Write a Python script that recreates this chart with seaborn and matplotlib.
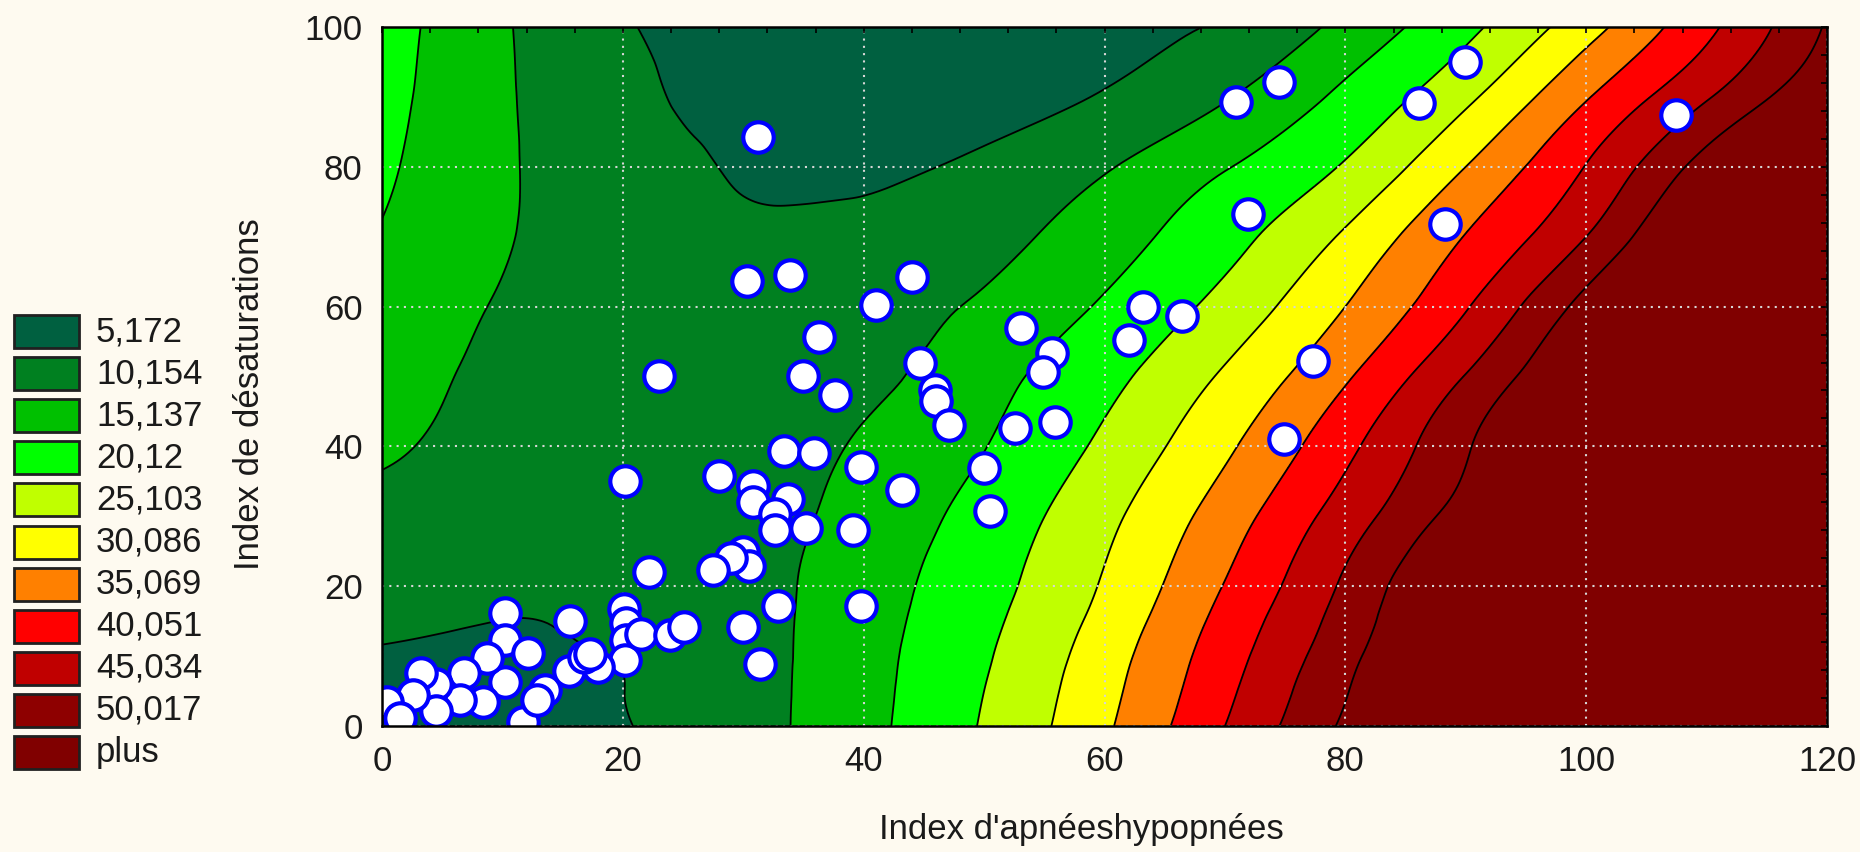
import numpy as np
import matplotlib
matplotlib.use("Agg")
import matplotlib.pyplot as plt
import matplotlib.tri as mtri
from matplotlib.patches import Rectangle
from matplotlib.ticker import MultipleLocator
import seaborn as sns
import pandas as pd

sns.set_theme(style="white")
plt.rcParams['font.family'] = ['Liberation Sans', 'DejaVu Sans']

# ---- data -------------------------------------------------------------
# surface (z at grid nodes)
x_nodes = [0, 5, 10, 15, 20, 25, 30, 35, 40, 50, 60, 70, 80, 90, 100, 110, 120]
y_nodes = [0, 5, 10, 15, 20, 30, 40, 50, 60, 70, 80, 90, 100]
z_y0 = [3.0, 3.5, 4.0, 4.5, 5.0, 6.5, 8.5, 10.68, 13.61, 20.55, 29.28, 40.05, 50.85, 61.2, 71.6, 82.0, 92.4]
z_y5 = [3.93, 4.11, 4.39, 4.75, 5.14, 6.78, 8.61, 10.61, 13.47, 20.12, 28.58, 38.93, 49.7, 60.0, 70.5, 81.0, 91.5]
z_y10 = [4.85, 4.72, 4.78, 4.9, 5.4, 7.2, 8.8, 10.54, 13.34, 19.6, 27.8, 37.9, 48.5, 59.6, 70.6, 81.6, 92.6]
z_y15 = [5.85, 5.43, 5.15, 5.35, 6.4, 7.7, 9.0, 10.44, 13.04, 19.02, 26.69, 36.7, 47.15, 58.5, 69.5, 80.5, 91.5]
z_y20 = [6.87, 6.17, 5.7, 5.9, 6.6, 7.8, 9.0, 10.35, 12.79, 18.38, 25.61, 35.3, 45.88, 57.6, 68.6, 79.6, 90.6]
z_y30 = [8.92, 7.76, 6.6, 6.4, 6.6, 7.3, 8.5, 9.8, 11.87, 16.95, 23.8, 32.53, 42.43, 52.4, 62.0, 71.6, 81.2]
z_y40 = [10.7, 9.4, 7.6, 7.0, 6.9, 7.2, 7.9, 9.0, 10.75, 15.01, 21.15, 29.19, 38.75, 49.49, 59.9, 70.3, 80.7]
z_y50 = [12.09, 10.6, 8.5, 7.7, 7.4, 7.4, 7.7, 8.4, 9.1, 13.37, 18.66, 25.78, 34.45, 45.26, 56.4, 67.4, 78.4]
z_y60 = [13.47, 11.56, 9.75, 8.6, 7.8, 7.2, 7.0, 7.2, 8.0, 10.9, 15.71, 21.76, 30.09, 39.67, 51.8, 63.0, 74.0]
z_y70 = [14.85, 12.67, 10.5, 9.2, 8.0, 6.8, 6.0, 6.0, 6.3, 8.5, 12.9, 18.43, 25.82, 35.27, 45.03, 58.5, 70.0]
z_y80 = [15.85, 13.31, 10.76, 8.99, 7.46, 5.94, 4.7, 4.3, 4.5, 6.0, 9.69, 14.85, 20.59, 30.09, 40.24, 52.3, 64.0]
z_y90 = [16.6, 13.67, 10.74, 8.59, 6.65, 4.75, 4.0, 3.7, 3.6, 3.6, 5.5, 9.75, 16.25, 24.04, 34.66, 44.59, 55.0]
z_y100 = [17.24, 13.96, 10.67, 8.10, 5.66, 4.0, 3.3, 3.0, 2.9, 3.0, 4.0, 5.7, 11.57, 18.87, 28.09, 38.86, 50.5]

levels = [5.172, 10.154, 15.137, 20.12, 25.103, 30.086, 35.069, 40.051, 45.034, 50.017]
legend_labels = ["5,172", "10,154", "15,137", "20,12", "25,103", "30,086",
                 "35,069", "40,051", "45,034", "50,017", "plus"]
band_colors = ["#006040", "#008020", "#00C000", "#00FF00", "#C0FF00", "#FFFF00",
               "#FF8000", "#FF0000", "#C00000", "#8E0000", "#800000"]

# scatter points (Index d'apnées-hypopnées, Index de désaturations)
iah = [31.2, 70.9, 74.5, 86.1, 89.9, 107.5, 71.9, 88.3,
       30.3, 33.9, 44.0, 41.0, 63.2, 66.4, 62.0, 53.1, 55.6, 54.9, 55.9, 52.6, 50.0, 50.5, 77.3, 74.9,
       36.3, 35.0, 37.6, 23.0, 44.7, 45.9, 46.0, 47.1,
       20.2, 33.4, 35.9, 39.8, 43.2, 39.1, 35.2, 28.0, 30.8, 30.8, 33.7, 32.6, 32.6,
       30.0, 30.5, 29.0, 27.5, 39.8, 32.9, 30.0, 31.4,
       22.2, 20.1, 20.3, 20.3, 20.2, 21.5, 23.9, 25.1,
       15.6, 10.2, 10.2, 12.1, 10.2, 8.7, 8.4, 6.8, 6.5, 4.5, 4.5, 3.2, 2.6, 0.4, 1.5,
       11.7, 13.5, 12.9, 15.5, 17.9, 16.8, 17.3]
ids = [84.2, 89.2, 92.2, 89.1, 95.0, 87.4, 73.2, 71.8,
       63.6, 64.5, 64.3, 60.2, 60.0, 58.6, 55.2, 56.9, 53.3, 50.6, 43.5, 42.6, 36.9, 30.7, 52.2, 41.0,
       55.6, 50.0, 47.4, 50.0, 51.9, 48.1, 46.5, 43.1,
       35.0, 39.4, 39.0, 37.0, 33.8, 28.1, 28.3, 35.7, 34.4, 32.1, 32.5, 30.3, 28.1,
       24.9, 22.9, 24.1, 22.3, 17.1, 17.1, 14.2, 8.8,
       22.1, 16.8, 14.8, 12.3, 9.5, 13.1, 13.0, 14.2,
       15.0, 16.2, 12.3, 10.4, 6.3, 9.7, 3.4, 7.6, 3.7, 6.0, 2.2, 7.6, 4.5, 3.5, 1.2,
       0.6, 5.2, 3.7, 7.8, 8.5, 9.8, 10.3]

x_ticks = [0, 20, 40, 60, 80, 100, 120]
y_ticks = [0, 20, 40, 60, 80, 100]

# ---- figure -----------------------------------------------------------
BG = "#FEFAF0"
FS = 25
TXT = "#1a1a1a"
fig = plt.figure(figsize=(18.6, 8.52), dpi=100, facecolor=BG)
ax = fig.add_axes([0.20538, 0.14789, 0.77688, 0.82042])
ax.set_facecolor(BG)

Z = np.array([z_y0, z_y5, z_y10, z_y15, z_y20, z_y30, z_y40, z_y50,
              z_y60, z_y70, z_y80, z_y90, z_y100], dtype=float)
XX, YY = np.meshgrid(np.array(x_nodes, float), np.array(y_nodes, float))
nx, ny = len(x_nodes), len(y_nodes)
tris = []
for j in range(ny - 1):
    for i in range(nx - 1):
        a = j * nx + i
        b = a + 1
        c = a + nx
        d = c + 1
        tris.append([a, b, d])
        tris.append([a, d, c])
tri = mtri.Triangulation(XX.ravel(), YY.ravel(), np.array(tris))
interp = mtri.CubicTriInterpolator(tri, Z.ravel(), kind="min_E")
refiner = mtri.UniformTriRefiner(tri)
tri_f, z_f = refiner.refine_field(Z.ravel(), triinterpolator=interp, subdiv=4)

fill_levels = [min(z_f.min(), 0) - 1] + levels + [z_f.max() + 1]
ax.tricontourf(tri_f, z_f, levels=fill_levels, colors=band_colors, zorder=1)
ax.tricontour(tri_f, z_f, levels=levels, colors="black", linewidths=1.3, zorder=2)

ax.set_xlim(0, 120)
ax.set_ylim(0, 100)
ax.set_xticks(x_ticks)
ax.set_yticks(y_ticks)
ax.xaxis.set_minor_locator(MultipleLocator(4))
ax.yaxis.set_minor_locator(MultipleLocator(4))
ax.tick_params(which="both", direction="in", top=True, right=True,
               length=4, width=1.2, color="black")
ax.tick_params(which="major", labelsize=FS, pad=14, labelcolor=TXT)
ax.grid(True, which="major", color="#D6D6D6", linestyle=(0, (1, 2.5)), linewidth=1.5)
ax.set_axisbelow(False)
for s in ax.spines.values():
    s.set_color("black")
    s.set_linewidth(1.8)
    s.set_zorder(5)

df = pd.DataFrame({"iah": iah, "ids": ids})
sns.scatterplot(data=df, x="iah", y="ids", ax=ax, s=480, marker="o",
                facecolor="white", edgecolor="#0000FF", linewidth=3.0,
                zorder=4, legend=False, clip_on=True)
ax.set_xlabel("")
ax.set_ylabel("")

# axis titles
fig.text(1081 / 1860, 1 - 830 / 852, "Index d'apnéeshypopnées", ha="center", va="center",
         fontsize=FS, color=TXT)
fig.text(249 / 1860, 1 - 394 / 852, "Index de désaturations", ha="center", va="center",
         rotation=90, fontsize=FS, color=TXT)

# legend (left)
W, H = 1860.0, 852.0
box_x0, box_w, box_h = 14, 65, 33
top0, step = 315, 42.1
for k, (lab, col) in enumerate(zip(legend_labels, band_colors)):
    top = top0 + k * step
    fig.patches.append(Rectangle((box_x0 / W, 1 - (top + box_h) / H), box_w / W, box_h / H,
                                 transform=fig.transFigure, facecolor=col,
                                 edgecolor="#202020", linewidth=2))
    fig.text(96 / W, 1 - (top + box_h / 2) / H, lab, ha="left", va="center",
             fontsize=FS, color=TXT)

fig.savefig("out.png", dpi=100, facecolor=BG)
